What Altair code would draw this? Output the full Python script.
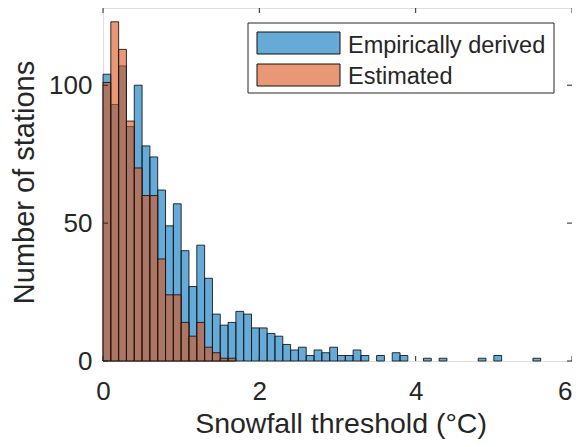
import altair as alt
import pandas as pd

FONT = "Liberation Sans"
TXT = "#262626"

# histogram: bin width 0.1 starting at 0
bin_width = 0.1
empirical_counts = [104, 93, 107, 85, 100, 78, 74, 62, 49, 57,
                    40, 27, 42, 30, 17, 13, 14, 18, 17, 12,
                    12, 10, 9, 6, 4, 5, 2, 4, 3, 5,
                    2, 2, 4, 2, 0, 2, 0, 3, 2, 0,
                    0, 1, 0, 1, 0, 0, 0, 0, 1, 0,
                    2, 0, 0, 0, 0, 1]
estimated_counts = [101, 123, 113, 87, 70, 60, 60, 37, 24, 24,
                    14, 9, 14, 5, 3, 1, 1]
series_names = ["Empirically derived", "Estimated"]
series_colors = ["#0072BD", "#D95319"]
x_ticks = [0, 2, 4, 6]
y_ticks = [0, 50, 100]

rows = []
for name, counts in zip(series_names, [empirical_counts, estimated_counts]):
    for i, c in enumerate(counts):
        if c > 0:
            rows.append({"series": name,
                         "start": round(i * bin_width, 2),
                         "end": round((i + 1) * bin_width, 2),
                         "count": c})
df = pd.DataFrame(rows)

W, H = 469, 353
xscale = alt.Scale(domain=[0, 6], nice=False, zero=False)
yscale = alt.Scale(domain=[0, 128], nice=False)

xaxis = alt.Axis(values=x_ticks, labelFontSize=26, labelFont=FONT, labelColor=TXT,
                 labelBaseline="alphabetic", labelPadding=38, labelFlush=False,
                 labelAlign=alt.condition(f"datum.value == {x_ticks[-1]}",
                                          alt.value("right"), alt.value("center")),
                 ticks=False, tickSize=0,
                 domain=False, grid=False, title="Snowfall threshold (°C)",
                 titleFont=FONT, titleFontSize=28.5, titleColor=TXT, titleFontWeight="normal",
                 titleBaseline="alphabetic", titleY=71, titleX=W / 2 + 3, titleAlign="center")
yaxis = alt.Axis(values=y_ticks, labelFontSize=26, labelFont=FONT, labelColor=TXT,
                 labelPadding=11, labelFlush=False, ticks=False, tickSize=0,
                 domain=False, grid=False, labelBaseline="middle",
                 title="Number of stations", titleFont=FONT, titleFontSize=29,
                 titleColor=TXT, titleFontWeight="normal", titleAngle=270,
                 titleBaseline="alphabetic", titleX=-70, titleY=174, titleAlign="center")

layers = []
for name, col in zip(series_names, series_colors):
    layers.append(
        alt.Chart(df).transform_filter(alt.datum.series == name)
        .mark_rect(fill=col, fillOpacity=0.6, stroke="#111111", strokeWidth=1, strokeOpacity=0.85)
        .encode(
            x=alt.X("start:Q", scale=xscale, axis=xaxis),
            x2="end:Q",
            y=alt.Y("count:Q", scale=yscale, axis=yaxis),
            y2=alt.datum(0),
        )
    )

xt = pd.DataFrame({"start": x_ticks})
yt = pd.DataFrame({"count": y_ticks})
tick_style = dict(color=TXT, strokeWidth=1)
layers += [
    alt.Chart(xt).mark_rule(**tick_style).encode(x=alt.X("start:Q", scale=xscale, axis=xaxis),
                                                 y=alt.value(H), y2=alt.value(H - 5)),
    alt.Chart(xt).mark_rule(**tick_style).encode(x=alt.X("start:Q", scale=xscale, axis=xaxis),
                                                 y=alt.value(0), y2=alt.value(5)),
    alt.Chart(yt).mark_rule(**tick_style).encode(y=alt.Y("count:Q", scale=yscale, axis=yaxis),
                                                 x=alt.value(0), x2=alt.value(5)),
    alt.Chart(yt).mark_rule(**tick_style).encode(y=alt.Y("count:Q", scale=yscale, axis=yaxis),
                                                 x=alt.value(W), x2=alt.value(W - 5)),
]

# legend (inside the plot, top-right)
leg = pd.DataFrame({"name": series_names, "color": series_colors})
layers.append(
    alt.Chart(leg.head(1)).mark_rect(fill="white", stroke=TXT, strokeWidth=1)
    .encode(x=alt.value(145), x2=alt.value(451), y=alt.value(15), y2=alt.value(85))
)
sw_y = [(24, 46), (56, 78)]
txt_y = [45, 76]
for (name, col), (y0, y1), ty in zip(zip(series_names, series_colors), sw_y, txt_y):
    one = leg[leg["name"] == name]
    layers.append(
        alt.Chart(one).mark_rect(fill=col, fillOpacity=0.6, stroke="#111111", strokeWidth=1)
        .encode(x=alt.value(154), x2=alt.value(237), y=alt.value(y0), y2=alt.value(y1))
    )
    layers.append(
        alt.Chart(one).mark_text(align="left", baseline="alphabetic", font=FONT,
                                 fontSize=23.5, color=TXT)
        .encode(x=alt.value(245), y=alt.value(ty), text="name:N")
    )

chart = (
    alt.layer(*layers)
    .properties(width=W, height=H,
                autosize=alt.AutoSizeParams(type="none"),
                padding={"left": 95, "top": 0, "right": 0, "bottom": 78})
    .configure_view(stroke=TXT, strokeWidth=1)
    .configure(background="white")
)

chart.save("out.html", embed_options={"renderer": "svg", "actions": False})
